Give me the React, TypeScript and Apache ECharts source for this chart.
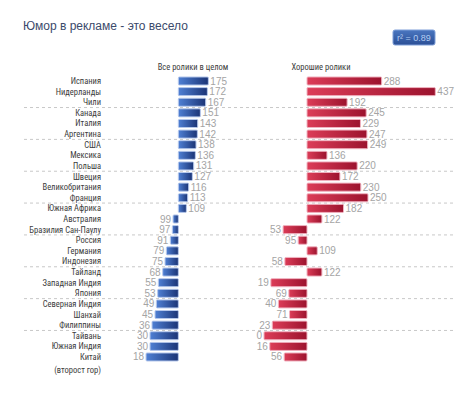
import React, { useEffect, useRef } from "react";
import * as echarts from "echarts";

const titleText = "Юмор в рекламе - это весело";
const badgeText = "r² = 0.89";
const headers = ["Все ролики в целом", "Хорошие ролики"];
const categories = [
  "Испания", "Нидерланды", "Чили", "Канада", "Италия", "Аргентина", "США",
  "Мексика", "Польша", "Швеция", "Великобритания", "Франция", "Южная Африка",
  "Австралия", "Бразилия Сан-Паулу", "Россия", "Германия", "Индонезия",
  "Тайланд", "Западная Индия", "Япония", "Северная Индия", "Шанхай",
  "Филиппины", "Тайвань", "Южная Индия", "Китай",
];
const chinaNote = "(второст гор)";
const allAds = [175, 172, 167, 151, 143, 142, 138, 136, 131, 127, 116, 113, 109, 99, 97, 91, 79, 75, 68, 55, 53, 49, 45, 36, 30, 30, 18];
const goodAds = [288, 437, 192, 245, 229, 247, 249, 136, 220, 172, 230, 250, 182, 122, 53, 95, 109, 58, 122, 19, 69, 40, 71, 23, 0, 16, 56];
const baseline = 100;
const groupSize = 3;

const GRID_TOP = 75.7;
const GRID_H = 286.6;
const NARROW = "'Liberation Sans Narrow', 'Roboto Condensed', 'DejaVu Sans Condensed', 'Liberation Sans', sans-serif";
const LABEL_COLOR = "#3c3c3c";

export default function App() {
  const ref = useRef<HTMLDivElement>(null);
  useEffect(() => {
    const chart = echarts.init(ref.current!, null, { renderer: "svg" });

    const makeRender = (pad: number, c0: string, c1: string, stroke: string) =>
      (params: any, api: any) => {
        const v = api.value(0);
        const idx = api.value(1);
        const base = api.coord([baseline, idx]);
        const end = api.coord([v, idx]);
        const bandH = api.size([0, 1])[1];
        const h = bandH * 0.76;
        const dir = v >= baseline ? 1 : -1;
        const x1 = base[0];
        const x2 = end[0] + dir * pad;
        return {
          type: "group",
          children: [
            {
              type: "rect",
              shape: { x: Math.min(x1, x2), y: base[1] - h / 2, width: Math.abs(x2 - x1), height: h, r: 1 },
              style: {
                fill: new echarts.graphic.LinearGradient(0, 0, 1, 0, [
                  { offset: 0, color: c0 },
                  { offset: 1, color: c1 },
                ]),
                stroke,
                lineWidth: 1,
              },
            },
            {
              type: "text",
              x: x2 + dir * 2,
              y: base[1],
              style: {
                text: String(v),
                fill: "#a4a4a4",
                fontSize: 10,
                fontFamily: "'Liberation Sans', Arial, sans-serif",
                align: dir > 0 ? "left" : "right",
                verticalAlign: "middle",
              },
            },
          ],
        };
      };

    // dashed separators after every group of rows
    const separatorRows = categories
      .map((_, i) => i)
      .filter((i) => i > 0 && i % groupSize === 0);

    const renderSeparator = (params: any, api: any) => {
      const idx = api.value(0);
      const cs = params.coordSys;
      const bandH = api.size([0, 1])[1];
      const y = api.coord([0, idx])[1] - bandH / 2;
      return {
        type: "line",
        shape: { x1: cs.x, y1: y, x2: cs.x + cs.width, y2: y },
        style: { stroke: "#c8c8c8", lineWidth: 1, lineDash: [3, 3] },
      };
    };

    const catAxisBase = {
      type: "category",
      data: categories,
      inverse: true,
      axisLine: { show: false },
      axisTick: { show: false },
      splitLine: { show: false },
    };

    chart.setOption({
      animation: false,
      backgroundColor: "#ffffff",
      grid: [
        { left: 24, right: 10, top: GRID_TOP, height: GRID_H },
        { left: 145, width: 66.7, top: GRID_TOP, height: GRID_H },
        { left: 271, width: 180, top: GRID_TOP, height: GRID_H },
      ],
      xAxis: [
        { gridIndex: 0, type: "value", show: false, min: 0, max: 1 },
        { gridIndex: 1, type: "value", show: false, min: 0, max: 200 },
        { gridIndex: 2, type: "value", show: false, min: 0, max: 500 },
      ],
      yAxis: [
        { ...catAxisBase, gridIndex: 0, axisLabel: { show: false } },
        {
          ...catAxisBase,
          gridIndex: 1,
          axisLabel: {
            interval: 0,
            margin: 44,
            color: LABEL_COLOR,
            fontSize: 8.5,
            fontWeight: "normal",
            fontFamily: NARROW,
            formatter: (value: string) =>
              value === "Китай" ? `{e| }\n{k|${value}}\n{s|${chinaNote}}` : value,
            rich: {
              e: { fontSize: 8.5, lineHeight: 15 },
              k: { fontSize: 8.5, lineHeight: 11, color: LABEL_COLOR, fontFamily: NARROW },
              s: { fontSize: 8.5, lineHeight: 15, color: LABEL_COLOR, fontFamily: NARROW },
            },
          },
        },
        { ...catAxisBase, gridIndex: 2, axisLabel: { show: false } },
      ],
      series: [
        {
          type: "custom",
          xAxisIndex: 0,
          yAxisIndex: 0,
          clip: false,
          silent: true,
          encode: { y: 0 },
          data: separatorRows.map((i) => [i]),
          renderItem: renderSeparator,
          z: 1,
        },
        {
          type: "custom",
          xAxisIndex: 1,
          yAxisIndex: 1,
          clip: false,
          encode: { x: 0, y: 1 },
          data: allAds.map((v, i) => [v, i]),
          renderItem: makeRender(5, "#4f80d4", "#1b3476", "#b7c9ec"),
          z: 2,
        },
        {
          type: "custom",
          xAxisIndex: 2,
          yAxisIndex: 2,
          clip: false,
          encode: { x: 0, y: 1 },
          data: goodAds.map((v, i) => [v, i]),
          renderItem: makeRender(7, "#dc3d58", "#9c132e", "#f0b3c0"),
          z: 2,
        },
      ],
      graphic: [
        {
          type: "text",
          x: 23,
          y: 26,
          style: {
            text: titleText,
            fill: "#3b4a6b",
            fontSize: 12,
            fontFamily: "'Liberation Sans', Arial, sans-serif",
            verticalAlign: "middle",
          },
        },
        {
          type: "text",
          x: 193,
          y: 67,
          style: {
            text: headers[0],
            fill: LABEL_COLOR,
            fontSize: 8.5,
            fontFamily: NARROW,
            align: "center",
            verticalAlign: "middle",
          },
        },
        {
          type: "text",
          x: 321,
          y: 67,
          style: {
            text: headers[1],
            fill: LABEL_COLOR,
            fontSize: 8.5,
            fontFamily: NARROW,
            align: "center",
            verticalAlign: "middle",
          },
        },
        {
          type: "rect",
          x: 393,
          y: 30,
          shape: { width: 42, height: 15, r: 2 },
          style: {
            fill: new echarts.graphic.LinearGradient(0, 0, 0, 1, [
              { offset: 0, color: "#4a76c0" },
              { offset: 1, color: "#2b4f96" },
            ]),
            stroke: "#7f9fd8",
            lineWidth: 1,
          },
        },
        {
          type: "text",
          x: 414,
          y: 37.5,
          style: {
            text: badgeText,
            fill: "#b4cdf2",
            fontSize: 9,
            fontFamily: "'Liberation Sans', Arial, sans-serif",
            align: "center",
            verticalAlign: "middle",
          },
        },
      ],
    });

    return () => chart.dispose();
  }, []);

  return <div ref={ref} style={{ position: "fixed", left: 0, top: 0, width: 465, height: 395 }} />;
}
